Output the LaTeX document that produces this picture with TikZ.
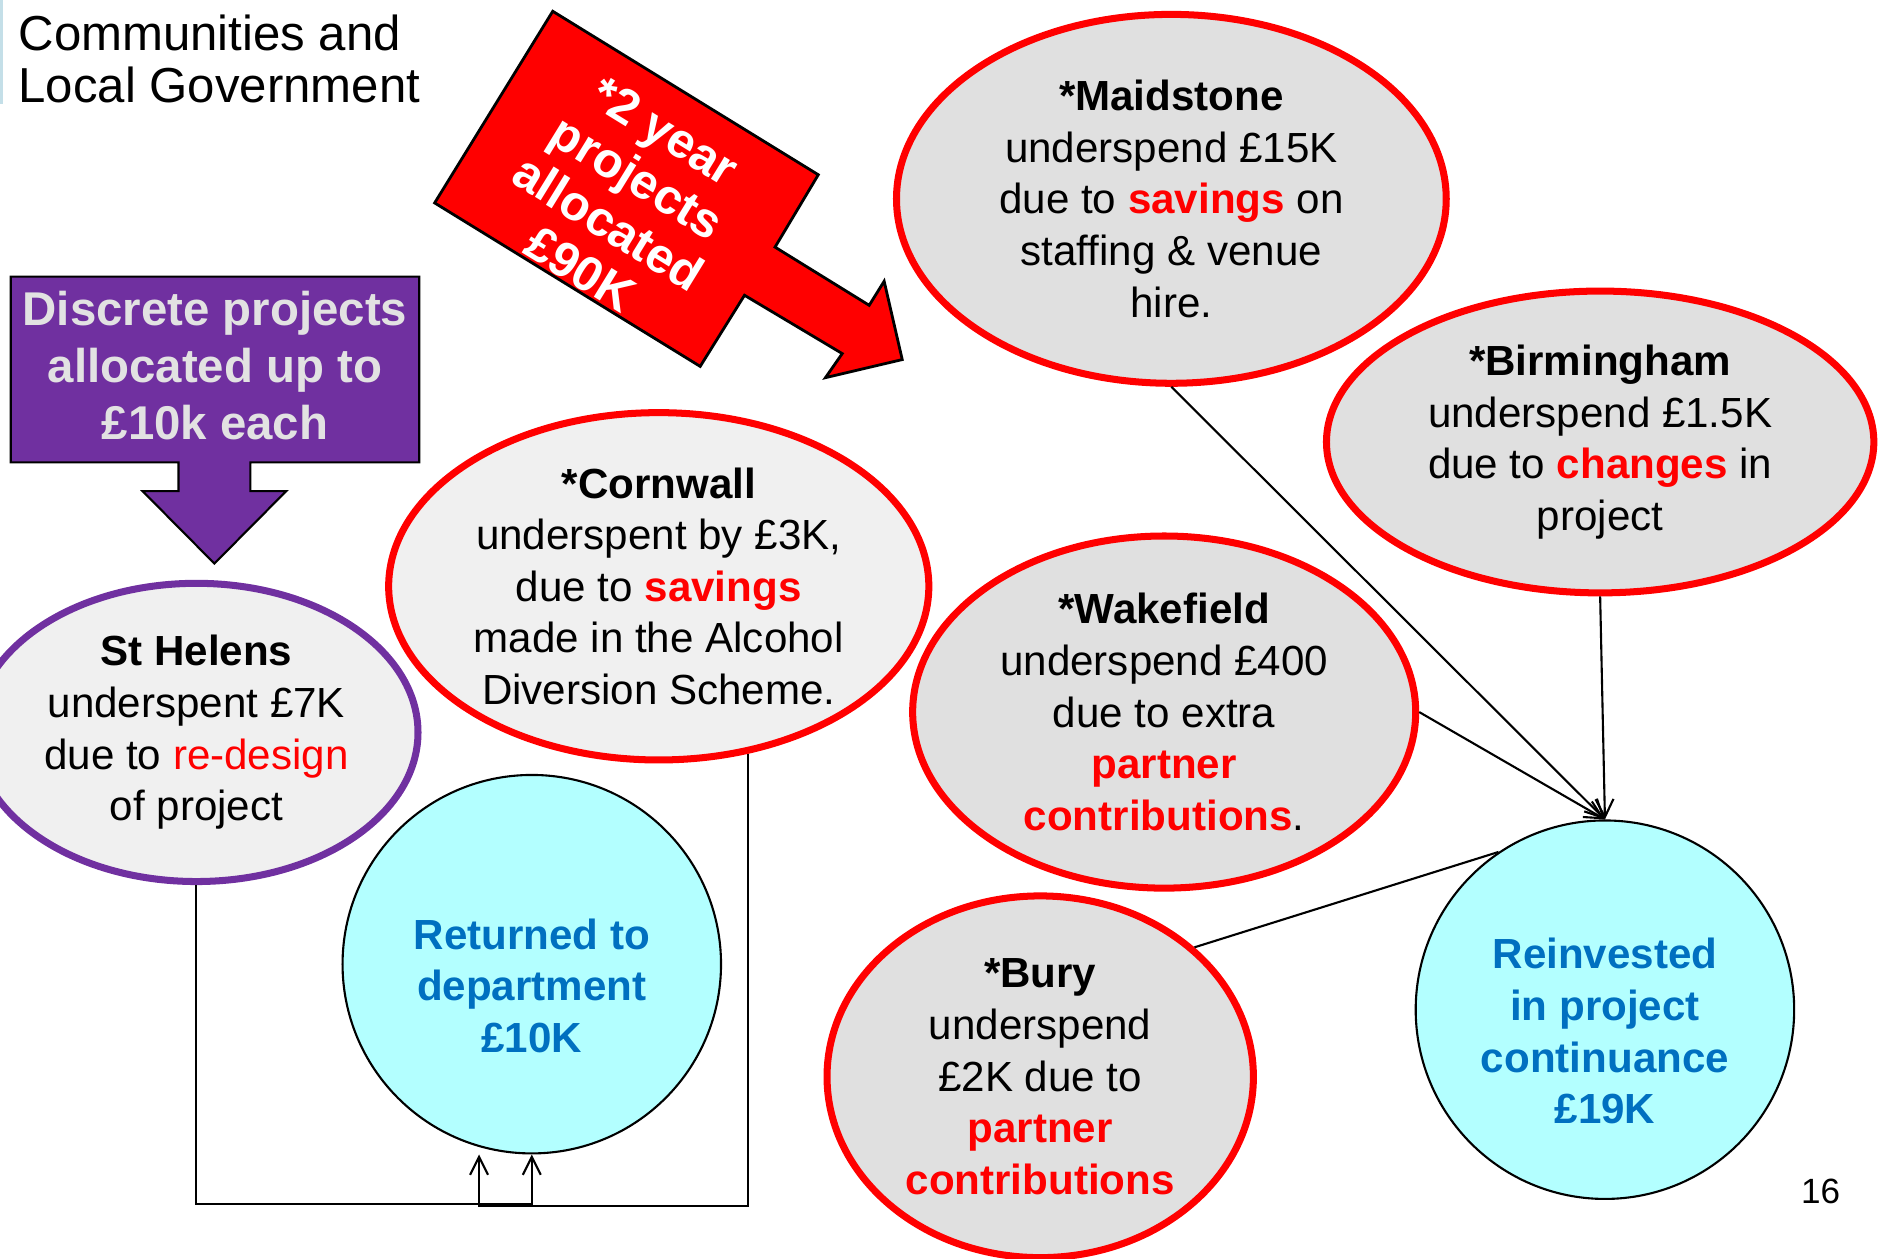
\documentclass[tikz,border=0pt]{standalone}
\usepackage{fontspec}
\setmainfont{Liberation Sans}
\usepackage{tikz}
\usetikzlibrary{shapes.geometric,arrows.meta,calc}

\definecolor{dclgpurple}{HTML}{7030A0}
\definecolor{dclgred}{HTML}{FF0000}
\definecolor{dclgblue}{HTML}{0070C0}
\definecolor{dclgcyan}{HTML}{B3FFFF}
\definecolor{dclggrey}{HTML}{E0E0E0}
\definecolor{dclglight}{HTML}{F0F0F0}
\definecolor{dclgtext}{HTML}{E2E2E2}
\definecolor{dclgedge}{HTML}{C4DFE8}

\newcommand{\hl}[1]{\textcolor{dclgred}{\textbf{#1}}}

\begin{document}
\begin{tikzpicture}[x=0.012cm, y=-0.012cm,
  >={Straight Barb[length=1.8mm,width=1.8mm]},
  blob/.style={ellipse, draw=dclgred, line width=2pt, fill=dclggrey,
    inner sep=-6pt, align=center, font=\fontsize{12}{14.7}\selectfont},
  pale/.style={blob, fill=dclglight},
  ball/.style={circle, draw=black, line width=0.6pt, fill=dclgcyan,
    inner sep=0pt, minimum size=316*0.012cm},
  balltext/.style={align=center, text=dclgblue,
    font=\fontsize{12}{14.7}\selectfont\bfseries},
  link/.style={draw=black, line width=0.6pt}]

\useasboundingbox (0,0) rectangle (1568,1051);

\draw [line width=1pt, color=dclgedge] (0.8,0) -- (0.8,87);
\node [anchor=north west, inner sep=0pt, align=left,
  font=\fontsize{14}{14.8}\selectfont] (dept) at (15,11.5)
  {Communities and\\Local Government};

\draw [fill=dclgpurple, draw=black, line width=0.6pt]
(9,231) -- (350,231) -- (350,386) -- (209,386) -- (209,410) -- (239,410)
-- (179,470.5) -- (119,410) -- (149,410) -- (149,386) -- (9,386) -- cycle;
\node [align=center, text=dclgtext, font=\fontsize{13.5}{16.3}\selectfont\bfseries]
  (discrete) at (179.5,305) {Discrete projects\\allocated up to\\£10k each};

\draw [fill=dclgred, draw=black, line width=0.8pt]
(461.5,9.4) -- (683.2,145.9) -- (647.1,206.3) -- (725.7,254.9) -- (738.2,234.8)
-- (753.3,300.2) -- (689.2,315.3) -- (703.2,295.2) -- (621.6,246.5)
-- (584.6,305.9) -- (362.9,169.4) -- cycle;
\node [rotate=-31.6, align=center, text=white,
  font=\fontsize{14}{15.4}\selectfont\bfseries] (twoyear) at (520,167)
  {*2 year\\projects\\allocated\\£90K};

\node [blob, minimum width=459*0.012cm, minimum height=308*0.012cm] (maid) at (978,166)
  {\textbf{*Maidstone}\\underspend £15K\\due to \hl{savings} on\\staffing \& venue\\hire.};
\node [blob, minimum width=457*0.012cm, minimum height=252*0.012cm] (birm) at (1336,369)
  {\textbf{*Birmingham}\\underspend £1.5K\\due to \hl{changes} in\\project};
\node [pale, minimum width=451*0.012cm, minimum height=290*0.012cm] (corn) at (550,489.5)
  {\textbf{*Cornwall}\\underspent by £3K,\\due to \hl{savings}\\made in the Alcohol\\Diversion Scheme.};
\node [pale, draw=dclgpurple, minimum width=370*0.012cm, minimum height=249*0.012cm] (sth) at (164,611.5)
  {\textbf{St Helens}\\underspent £7K\\due to \textcolor{dclgred}{re-design}\\of project};
\node [blob, minimum width=420*0.012cm, minimum height=294*0.012cm] (wake) at (972,594.5)
  {\textbf{*Wakefield}\\underspend £400\\due to extra\\\hl{partner}\\\hl{contributions}.};
\node [blob, minimum width=356*0.012cm, minimum height=302*0.012cm] (bury) at (868.5,899)
  {\textbf{*Bury}\\underspend\\£2K due to\\\hl{partner}\\\hl{contributions}};

\node [ball] (retd) at (444,805) {};
\node [balltext] (retdtext) at ($(retd)+(0,18)$) {Returned to\\department\\£10K};
\node [ball] (reinv) at (1340,843) {};
\node [balltext] (reinvtext) at ($(reinv)+(0,18)$) {Reinvested\\in project\\continuance\\£19K};

\draw [link,->] (maid.south) -- (reinv.north);
\draw [link,->] (birm.south) -- (reinv.north);
\draw [link,->] (wake.east) -- (reinv.north);
\draw [link] (bury.40) -- (reinv.124);

\draw [link,->] (sth.south) -- ++(0,266) -| (retd.south);
\draw [link,->] (corn.-62) |- ($(retd.south)+(-44,43)$) -- ($(retd.south)+(-44,0)$);

\node [font=\fontsize{10}{12}\selectfont] (pageno) at (1520,995) {16};
\end{tikzpicture}
\end{document}
